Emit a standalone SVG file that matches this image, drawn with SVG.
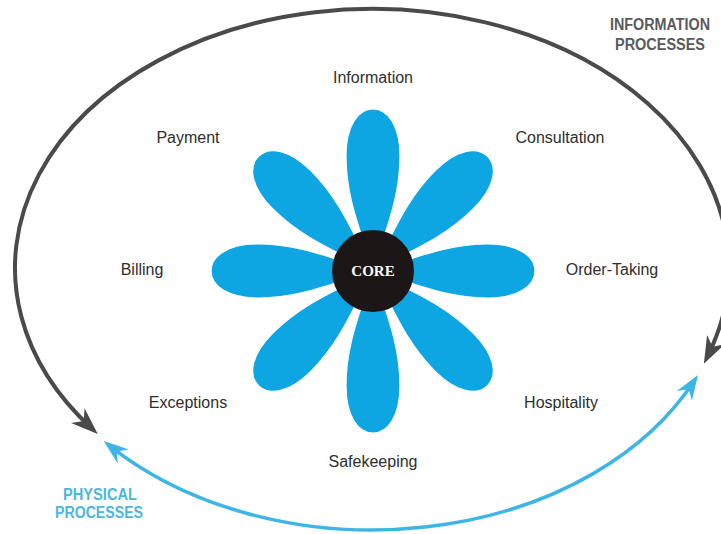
<svg xmlns="http://www.w3.org/2000/svg" width="721" height="534" viewBox="0 0 721 534">
  <style>
    .label { font-family: "Liberation Sans", Arial, sans-serif; font-size: 16px; fill: #2e2e2e; text-anchor: middle; }
    .group-title { font-family: "Liberation Sans", Arial, sans-serif; font-weight: bold; font-size: 16px; }
    .info { fill: #5a5a5c; }
    .phys { fill: #4db6e0; }
    .petal { fill: #0ea5e3; stroke: #ffffff; stroke-width: 1.2; }
    .core-text { font-family: "Liberation Serif", "Times New Roman", serif; font-weight: bold; font-size: 15px; fill: #ffffff; text-anchor: middle; }
    .arc-dark { fill: none; stroke: #4a4a4a; stroke-width: 4; }
    .arc-blue { fill: none; stroke: #3fb5e5; stroke-width: 3.5; }
  </style>
  <defs>
    <!-- one petal pointing up from the flower centre -->
    <path id="petal-shape" d="M0,0 C-12,-40 -27,-72 -27,-115 C-27,-145 -15,-162 0,-162 C15,-162 27,-145 27,-115 C27,-72 12,-40 0,0 Z"/>
    <marker id="arrow-dark" viewBox="-32 -14 34 28" refX="-7" refY="0" markerWidth="34" markerHeight="28" orient="auto-start-reverse" markerUnits="userSpaceOnUse">
      <path d="M0,0 L-27,-10 L-19,0 L-27,10 Z" fill="#4a4a4a"/>
    </marker>
    <marker id="arrow-blue" viewBox="-32 -14 34 28" refX="-7" refY="0" markerWidth="34" markerHeight="28" orient="auto-start-reverse" markerUnits="userSpaceOnUse">
      <path d="M0,0 L-25,-9 L-17,0 L-25,9 Z" fill="#3fb5e5"/>
    </marker>
  </defs>

  <rect width="721" height="534" fill="#ffffff"/>

  <!-- process cycle arcs -->
  <g id="connectors">
    <path id="information-arc" class="arc-dark" d="M92.6,429.2 A357 259 0 1 1 707.0,357.4" marker-start="url(#arrow-dark)" marker-end="url(#arrow-dark)"/>
    <path id="physical-arc" class="arc-blue" d="M694.2,380.8 A357 262 0 0 1 109.2,445.3" marker-start="url(#arrow-blue)" marker-end="url(#arrow-blue)"/>
  </g>

  <!-- flower petals around the core -->
  <g id="petals" transform="translate(373,271)">
    <use href="#petal-shape" class="petal" transform="rotate(0)"/>
    <use href="#petal-shape" class="petal" transform="rotate(45)"/>
    <use href="#petal-shape" class="petal" transform="rotate(90)"/>
    <use href="#petal-shape" class="petal" transform="rotate(135)"/>
    <use href="#petal-shape" class="petal" transform="rotate(180)"/>
    <use href="#petal-shape" class="petal" transform="rotate(225)"/>
    <use href="#petal-shape" class="petal" transform="rotate(270)"/>
    <use href="#petal-shape" class="petal" transform="rotate(315)"/>
  </g>

  <g id="core">
    <circle cx="373" cy="271" r="41" fill="#1c1617"/>
    <text class="core-text" x="373" y="276">CORE</text>
  </g>

  <!-- supplementary service labels -->
  <g id="node-information"><text class="label" x="373" y="83">Information</text></g>
  <g id="node-consultation"><text class="label" x="560" y="143">Consultation</text></g>
  <g id="node-order-taking"><text class="label" x="612" y="275">Order-Taking</text></g>
  <g id="node-hospitality"><text class="label" x="561" y="408">Hospitality</text></g>
  <g id="node-safekeeping"><text class="label" x="373" y="467">Safekeeping</text></g>
  <g id="node-exceptions"><text class="label" x="188" y="408">Exceptions</text></g>
  <g id="node-billing"><text class="label" x="142" y="275">Billing</text></g>
  <g id="node-payment"><text class="label" x="188" y="143">Payment</text></g>

  <g id="information-processes">
    <text class="group-title info" x="610" y="30" textLength="100" lengthAdjust="spacingAndGlyphs">INFORMATION</text>
    <text class="group-title info" x="615" y="50" textLength="90" lengthAdjust="spacingAndGlyphs">PROCESSES</text>
  </g>
  <g id="physical-processes">
    <text class="group-title phys" x="63" y="500" textLength="74" lengthAdjust="spacingAndGlyphs">PHYSICAL</text>
    <text class="group-title phys" x="55" y="518" textLength="88" lengthAdjust="spacingAndGlyphs">PROCESSES</text>
  </g>
</svg>
